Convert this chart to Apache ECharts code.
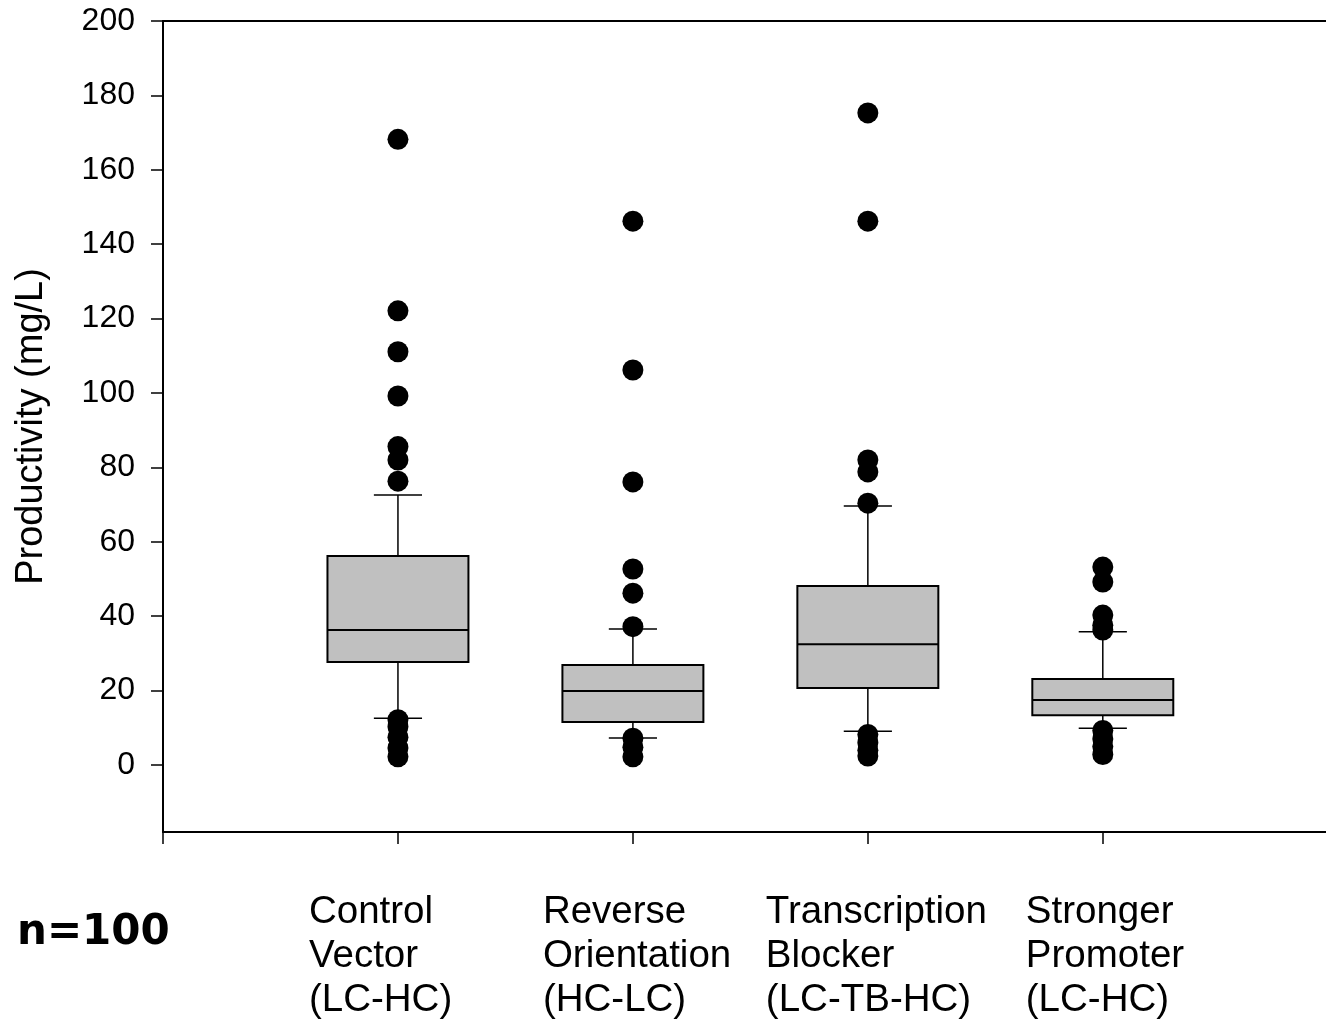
<!DOCTYPE html>
<html>
<head>
<meta charset="utf-8">
<script src="https://cdn.jsdelivr.net/npm/echarts@6/dist/echarts.min.js"></script>
<style>
  html, body { margin: 0; padding: 0; background: #fff; }
  #chart { width: 1326px; height: 1020px; }
</style>
</head>
<body>
<div id="chart"></div>
<script>
// categories (multi-line labels under the axis)
const categories = [
  "Control\nVector\n(LC-HC)",
  "Reverse\nOrientation\n(HC-LC)",
  "Transcription\nBlocker\n(LC-TB-HC)",
  "Stronger\nPromoter\n(LC-HC)"
];
// box stats: [lower whisker, Q1, median, Q3, upper whisker]
const boxStats = [
  [12.6, 27.7, 36.3, 56.2, 72.6],
  [7.3, 11.6, 19.9, 26.9, 36.6],
  [9.1, 20.7, 32.5, 48.1, 69.6],
  [9.9, 13.4, 17.5, 23.1, 35.8]
];
// outliers per group
const outliers = [
  [168.2, 122.1, 111.1, 99.2, 85.6, 82, 76.3, 12.2, 10.3, 7.5, 4.6, 2.2],
  [146.2, 106.2, 76.1, 52.7, 46.2, 37.2, 7.2, 4.8, 2.2],
  [175.3, 146.2, 82, 78.8, 70.4, 8.2, 6, 4, 2.4],
  [53.2, 49.2, 40.3, 37.6, 36.3, 9.3, 7, 5, 2.8]
];
const yTicks = [0, 20, 40, 60, 80, 100, 120, 140, 160, 180, 200];
const xTicks = [0, 1, 2, 3, 4];

const boxData = boxStats.map((s, i) => [i + 1].concat(s));
const outlierData = [];
outliers.forEach((arr, i) => arr.forEach(v => outlierData.push([i + 1, v])));

const chart = echarts.init(document.getElementById("chart"));

function renderBox(params, api) {
  const x = api.value(0);
  const low = api.coord([x, api.value(1)]);
  const q1 = api.coord([x, api.value(2)]);
  const med = api.coord([x, api.value(3)]);
  const q3 = api.coord([x, api.value(4)]);
  const high = api.coord([x, api.value(5)]);
  const halfW = api.size([0.6, 0])[0] / 2;
  const capW = api.size([0.205, 0])[0] / 2;
  const cx = low[0];
  const line = { stroke: "#000", lineWidth: 1.5 };
  return {
    type: "group",
    children: [
      { type: "line", shape: { x1: cx, y1: q3[1], x2: cx, y2: high[1] }, style: line },
      { type: "line", shape: { x1: cx, y1: q1[1], x2: cx, y2: low[1] }, style: line },
      { type: "line", shape: { x1: cx - capW, y1: high[1], x2: cx + capW, y2: high[1] }, style: line },
      { type: "line", shape: { x1: cx - capW, y1: low[1], x2: cx + capW, y2: low[1] }, style: line },
      {
        type: "rect",
        shape: { x: cx - halfW, y: q3[1], width: halfW * 2, height: q1[1] - q3[1] },
        style: { fill: "#c0c0c0", stroke: "#000", lineWidth: 2 }
      },
      { type: "line", shape: { x1: cx - halfW, y1: med[1], x2: cx + halfW, y2: med[1] }, style: { stroke: "#000", lineWidth: 2 } }
    ]
  };
}

const option = {
  animation: false,
  backgroundColor: "#fff",
  grid: { left: 163, right: 0, top: 21, bottom: 188 },
  xAxis: [
    {
      type: "value",
      min: 0,
      max: 4.95,
      axisLine: { show: true, onZero: false, lineStyle: { color: "#000", width: 2 } },
      axisTick: { show: true, customValues: xTicks, length: 12, lineStyle: { color: "#000", width: 1.5 } },
      axisLabel: { show: false },
      splitLine: { show: false }
    },
    {
      type: "value",
      position: "top",
      min: 0,
      max: 4.95,
      axisLine: { show: true, onZero: false, lineStyle: { color: "#000", width: 2 } },
      axisTick: { show: false },
      axisLabel: { show: false },
      splitLine: { show: false }
    }
  ],
  yAxis: {
    type: "value",
    min: -18,
    max: 200,
    name: "Productivity (mg/L)",
    nameLocation: "middle",
    nameGap: 112,
    nameTextStyle: { fontFamily: "Liberation Sans", fontSize: 38, color: "#000" },
    axisLine: { show: true, onZero: false, lineStyle: { color: "#000", width: 2 } },
    axisTick: { show: true, customValues: yTicks, length: 12, lineStyle: { color: "#000", width: 1.5 } },
    axisLabel: {
      customValues: yTicks,
      margin: 28,
      fontFamily: "Liberation Sans",
      fontSize: 32,
      color: "#000"
    },
    splitLine: { show: false }
  },
  series: [
    {
      type: "custom",
      renderItem: renderBox,
      data: boxData,
      encode: { x: 0, y: [1, 2, 3, 4, 5] },
      z: 2
    },
    {
      type: "scatter",
      data: outlierData,
      symbol: "circle",
      symbolSize: 21,
      itemStyle: { color: "#000", opacity: 1 },
      z: 3
    }
  ]
};
chart.setOption(option);

// category labels, left aligned blocks under each tick
const labelShift = [-89, -90, -102, -77];
const graphics = categories.map((c, i) => ({
  type: "text",
  x: chart.convertToPixel({ xAxisIndex: 0 }, i + 1) + labelShift[i],
  y: 890,
  style: {
    text: c,
    font: "38.5px 'Liberation Sans'",
    lineHeight: 44,
    fill: "#000",
    textAlign: "left",
    textVerticalAlign: "top"
  }
}));
graphics.push({
  type: "text",
  x: 17,
  y: 933,
  style: {
    text: "n=100",
    font: "bold 42px 'DejaVu Sans'",
    fill: "#000",
    textAlign: "left",
    textVerticalAlign: "middle"
  }
});
chart.setOption({ graphic: graphics });
</script>
</body>
</html>
